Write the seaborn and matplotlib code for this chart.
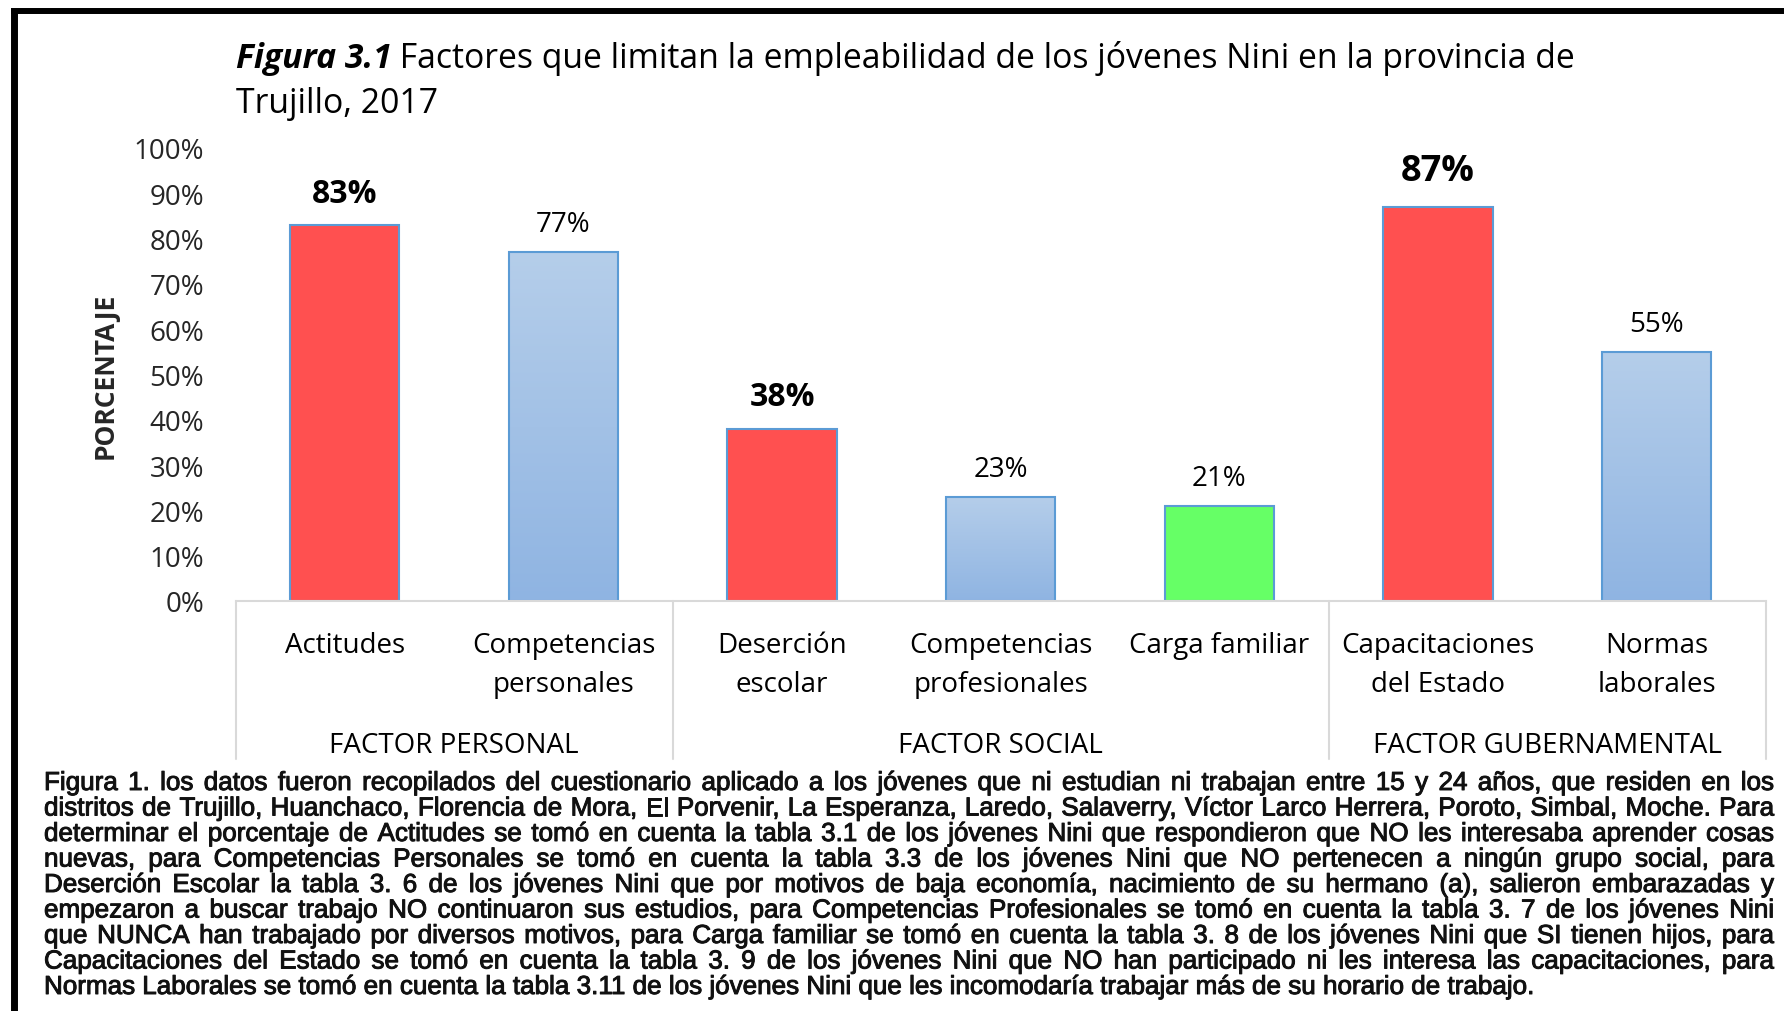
import numpy as np
import pandas as pd
import matplotlib
matplotlib.use('Agg')
import matplotlib.pyplot as plt
import matplotlib.patheffects as pe
import seaborn as sns
from matplotlib.colors import LinearSegmentedColormap
from matplotlib.lines import Line2D
from matplotlib.ticker import PercentFormatter
from matplotlib.transforms import blended_transform_factory

# ---------------- datos ----------------
categorias = ['Actitudes', 'Competencias\npersonales', 'Deserción\nescolar',
              'Competencias\nprofesionales', 'Carga familiar',
              'Capacitaciones\ndel Estado', 'Normas\nlaborales']
porcentajes = [0.83, 0.77, 0.38, 0.23, 0.21, 0.87, 0.55]
factores = ['FACTOR PERSONAL', 'FACTOR SOCIAL', 'FACTOR GUBERNAMENTAL']
n_por_factor = [2, 3, 2]

titulo_a = 'Figura 3.1'
titulo_b = ' Factores que limitan la empleabilidad de los jóvenes Nini en la provincia de'
titulo_c = 'Trujillo, 2017'

nota = [
    'Figura 1. los datos fueron recopilados del cuestionario aplicado a los jóvenes que ni estudian ni trabajan entre 15 y 24 años, que residen en los',
    'distritos de Trujillo, Huanchaco, Florencia de Mora, El Porvenir, La Esperanza, Laredo, Salaverry, Víctor Larco Herrera, Poroto, Simbal, Moche. Para',
    'determinar el porcentaje de Actitudes se tomó en cuenta la tabla 3.1 de los jóvenes Nini que respondieron que NO les interesaba aprender cosas',
    'nuevas, para Competencias Personales se tomó en cuenta la tabla 3.3 de los jóvenes Nini que NO pertenecen a ningún grupo social,  para',
    'Deserción Escolar  la tabla 3. 6  de los jóvenes Nini que por motivos de baja economía, nacimiento de su hermano (a), salieron embarazadas y',
    'empezaron a buscar trabajo NO continuaron sus estudios,  para Competencias Profesionales se tomó en cuenta la tabla 3. 7  de los jóvenes Nini',
    'que NUNCA han trabajado por diversos motivos, para Carga familiar se tomó en cuenta la tabla 3. 8  de los jóvenes Nini que SI tienen hijos, para',
    'Capacitaciones del Estado se tomó en cuenta la tabla 3. 9  de los jóvenes Nini que NO han participado ni les interesa las capacitaciones, para',
    'Normas Laborales se tomó en cuenta la tabla 3.11 de los jóvenes Nini que les incomodaría trabajar más de su horario de trabajo.',
]

# ---------------- estilo ----------------
ROJO, VERDE, AZUL = '#FF5050', '#66FF66', 'azul'
tipo_barra = [ROJO, AZUL, ROJO, AZUL, VERDE, ROJO, AZUL]
# tamaño de etiqueta (las rojas van en negrita y mas grandes)
etiqueta_fs = [23, 20, 23, 20, 20, 26, 20]
BORDE = '#5B9BD5'
GRIS = '#D9D9D9'
azul_grad = LinearSegmentedColormap.from_list('azul', ['#8FB4E2', '#B5CEEA'])

sns.set_style('white')
plt.rcParams['font.family'] = ['Open Sans', 'DejaVu Sans']
plt.rcParams['text.color'] = 'black'

W, H = 1784, 1012
fig = plt.figure(figsize=(W / 100, H / 100), dpi=100)
fig.patch.set_facecolor('white')

# eje: 0% en y=602 px, 100% en y=149 px
ax = fig.add_axes([235.5 / W, (H - 602) / H, (1766 - 235.5) / W, 453 / H])

df = pd.DataFrame({'categoria': categorias, 'porcentaje': porcentajes})
paleta = [c if c != AZUL else '#A4C2E6' for c in tipo_barra]
sns.barplot(data=df, x='categoria', y='porcentaje', hue='categoria',
            palette=paleta, width=0.5, saturation=1, edgecolor=BORDE,
            linewidth=1.5, legend=False, ax=ax)

# degradado para las barras azules
grad = np.linspace(0, 1, 256).reshape(-1, 1)
for bar, tipo in zip(ax.patches, tipo_barra):
    if tipo == AZUL:
        x0, w, h = bar.get_x(), bar.get_width(), bar.get_height()
        bar.set_facecolor('none')
        im = ax.imshow(grad, extent=[x0, x0 + w, 0, h], aspect='auto',
                       cmap=azul_grad, origin='lower', zorder=bar.get_zorder() - 0.1)
        im.set_clip_path(bar)

ax.set_xlim(-0.5, len(categorias) - 0.5)
ax.set_ylim(0, 1)

for s in ['top', 'right', 'left']:
    ax.spines[s].set_visible(False)
ax.spines['bottom'].set_color(GRIS)
ax.spines['bottom'].set_linewidth(1.5)

ax.set_yticks(np.linspace(0, 1, 11))
ax.yaxis.set_major_formatter(PercentFormatter(1.0, decimals=0))
ax.tick_params(axis='y', length=0, pad=22.7, labelsize=20)
ax.tick_params(axis='x', length=0, labelbottom=False)
ax.set_xlabel('')
ax.set_ylabel('PORCENTAJE', fontsize=19, fontweight='bold', va='center')
ax.yaxis.set_label_coords(-0.0855, 0.5)

# etiquetas de valor
for i, (v, fs) in enumerate(zip(porcentajes, etiqueta_fs)):
    ax.annotate(f'{v:.0%}', xy=(i, v), xytext=(0, fs * 1.0),
                textcoords='offset points', ha='center', va='center',
                fontsize=fs, fontweight='bold' if fs > 20 else 'normal')

# ejes de categorias con dos niveles
trans = blended_transform_factory(ax.transData, ax.transAxes)
for i, cat in enumerate(categorias):
    for k, linea in enumerate(cat.split('\n')):
        ax.text(i, [-0.1126, -0.1987][k], linea, transform=trans,
                ha='center', va='baseline', fontsize=20)

limites = np.concatenate([[0], np.cumsum(n_por_factor)]) - 0.5
for xb in limites:
    ax.plot([xb, xb], [0, -0.3488], transform=trans, clip_on=False,
            color=GRIS, lw=1.5)
for f, a, b in zip(factores, limites[:-1], limites[1:]):
    ax.text((a + b) / 2, -0.3333, f, transform=trans, ha='center',
            va='baseline', fontsize=20)

# titulo
t1 = fig.text(235.5 / W, 1 - 68 / H, titulo_a, fontsize=24.3, fontweight='bold',
              fontstyle='italic', va='baseline')
renderer = fig.canvas.get_renderer()
bb = t1.get_window_extent(renderer)
fig.text(bb.x1 / W, 1 - 68 / H, titulo_b, fontsize=24.3, va='baseline')
fig.text(235.5 / W, 1 - 113 / H, titulo_c, fontsize=24.3, va='baseline')

# marco negro (arriba e izquierda)
fig.add_artist(Line2D([11 / W, 1], [1 - 12 / H] * 2, transform=fig.transFigure,
                      color='black', lw=4.3, solid_capstyle='butt'))
fig.add_artist(Line2D([14.5 / W] * 2, [0, 1 - 9.5 / H], transform=fig.transFigure,
                      color='black', lw=5, solid_capstyle='butt'))

# nota al pie, justificada
NX0, NX1 = 44, 1774
nota_kw = dict(family=['Liberation Sans', 'DejaVu Sans'], color='#111111')
grueso = [pe.withStroke(linewidth=0.7, foreground='#111111')]


def ancho(s, size):
    t = fig.text(0, 0, s, fontsize=size, **nota_kw)
    w = t.get_window_extent(renderer).width
    t.remove()
    return w


base = 14
esp = ancho('a a', base) - ancho('aa', base)
naturales = [sum(ancho(p, base) for p in l.split()) + esp * (len(l.split()) - 1)
             for l in nota[:-1]]
size = base * (NX1 - NX0) / max(naturales) * 0.995
esp = ancho('a a', size) - ancho('aa', size)

for k, linea in enumerate(nota):
    palabras = linea.split()
    anchos = [ancho(p, size) for p in palabras]
    if k < len(nota) - 1:
        gap = ((NX1 - NX0) - sum(anchos)) / (len(palabras) - 1)
    else:
        gap = esp
    x = NX0
    y = 1 - (791 + 25.5 * k) / H
    for p, wp in zip(palabras, anchos):
        fig.text(x / W, y, p, fontsize=size, va='baseline',
                 path_effects=grueso, **nota_kw)
        x += wp + gap

fig.savefig('out.png', dpi=100, facecolor='white')
